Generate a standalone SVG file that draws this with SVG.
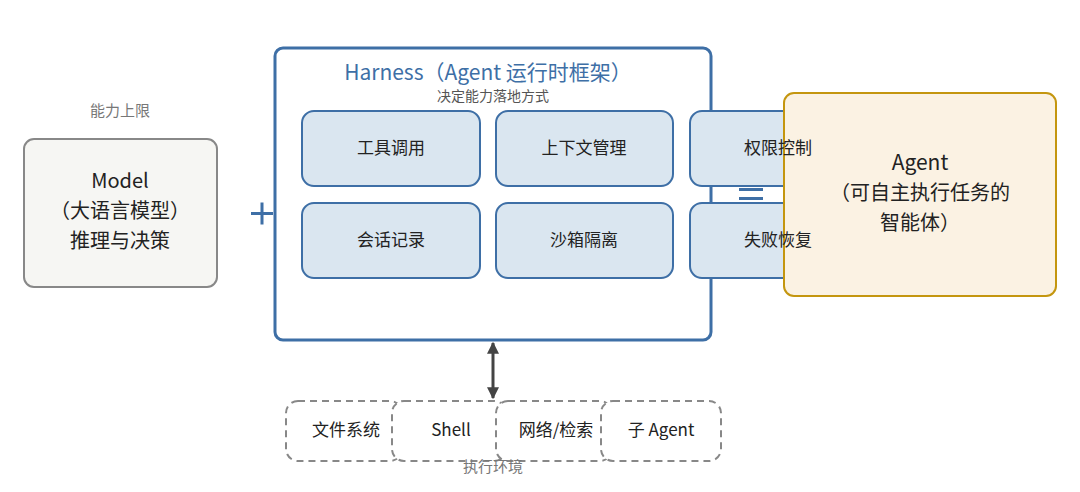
<svg xmlns="http://www.w3.org/2000/svg" width="1080" height="492" viewBox="0 0 1080 492">
<defs>
<style>
text{font-family:"Noto Sans CJK SC","Noto Sans",sans-serif;text-anchor:middle;fill:#222}
.in{fill:#dae6f0;stroke:#3e6fa6;stroke-width:2}
.env{fill:#fff;stroke:#888;stroke-width:2;stroke-dasharray:7 5}
.t16{font-size:17px}
.g{fill:#777;font-size:15px}
</style>
<marker id="ah" viewBox="0 0 10 10" refX="9" refY="5" markerWidth="4" markerHeight="4" orient="auto-start-reverse"><path d="M0,0L10,5L0,10z" fill="#444"/></marker>
</defs>
<rect width="1080" height="492" fill="#fff"/>
<g id="model">
<text x="120" y="116" class="g">能力上限</text>
<rect x="24" y="139" width="193" height="148" rx="10" fill="#f6f6f3" stroke="#888" stroke-width="2"/>
<text x="120" y="188" font-size="20">Model</text>
<text x="120" y="218" font-size="20">（大语言模型）</text>
<text x="120" y="248" font-size="20">推理与决策</text>
</g>
<g id="plus"><rect x="251" y="212" width="22" height="3" fill="#3e6fa6"/><rect x="260.5" y="202.5" width="3" height="22" fill="#3e6fa6"/></g>
<g id="harness">
<rect x="275" y="48" width="436" height="292" rx="8" fill="#fff" stroke="#3e6fa6" stroke-width="3"/>
<text x="488" y="80" font-size="21" style="fill:#3e6fa6">Harness（Agent 运行时框架）</text>
<text x="493" y="101" font-size="14" style="fill:#555">决定能力落地方式</text>
</g>
<g id="n1"><rect class="in" x="302" y="111" width="178" height="75" rx="12"/><text x="391" y="154" class="t16">工具调用</text></g>
<g id="n2"><rect class="in" x="496" y="111" width="177" height="75" rx="12"/><text x="584" y="154" class="t16">上下文管理</text></g>
<g id="n4"><rect class="in" x="302" y="203" width="178" height="75" rx="12"/><text x="391" y="246" class="t16">会话记录</text></g>
<g id="n5"><rect class="in" x="496" y="203" width="177" height="75" rx="12"/><text x="584" y="246" class="t16">沙箱隔离</text></g>
<g id="eq"><rect x="739" y="188" width="24" height="3" fill="#3e6fa6"/><rect x="739" y="197" width="24" height="3" fill="#3e6fa6"/></g>
<g id="agent">
<rect x="784" y="93" width="272" height="203" rx="10" fill="#fbf2e3" stroke="#c4960f" stroke-width="2"/>
<text x="920" y="170" font-size="21">Agent</text>
<text x="920" y="200" font-size="20">（可自主执行任务的</text>
<text x="920" y="230" font-size="20">智能体）</text>
</g>
<g id="n3"><path class="in" d="M783,111H702A12,12 0 0 0 690,123V174A12,12 0 0 0 702,186H783"/><text x="778" y="154" class="t16">权限控制</text></g>
<g id="n6"><path class="in" d="M783,203H702A12,12 0 0 0 690,215V266A12,12 0 0 0 702,278H783"/><text x="778" y="246" class="t16">失败恢复</text></g>
<g id="env">
<rect class="env" x="286" y="401" width="116" height="60" rx="12"/>
<rect class="env" x="392" y="401" width="114" height="60" rx="12"/>
<rect class="env" x="496" y="401" width="116" height="60" rx="12"/>
<rect class="env" x="601" y="401" width="120" height="60" rx="12"/>
<text x="346" y="436" class="t16">文件系统</text>
<text x="451" y="436" class="t16">Shell</text>
<text x="556" y="436" class="t16">网络/检索</text>
<text x="661" y="436" class="t16">子 Agent</text>
<text x="493" y="472" class="g">执行环境</text>
</g>
<g id="connectors">
<line x1="493" y1="343" x2="493" y2="398" stroke="#444" stroke-width="3" marker-start="url(#ah)" marker-end="url(#ah)"/>
</g>
</svg>
